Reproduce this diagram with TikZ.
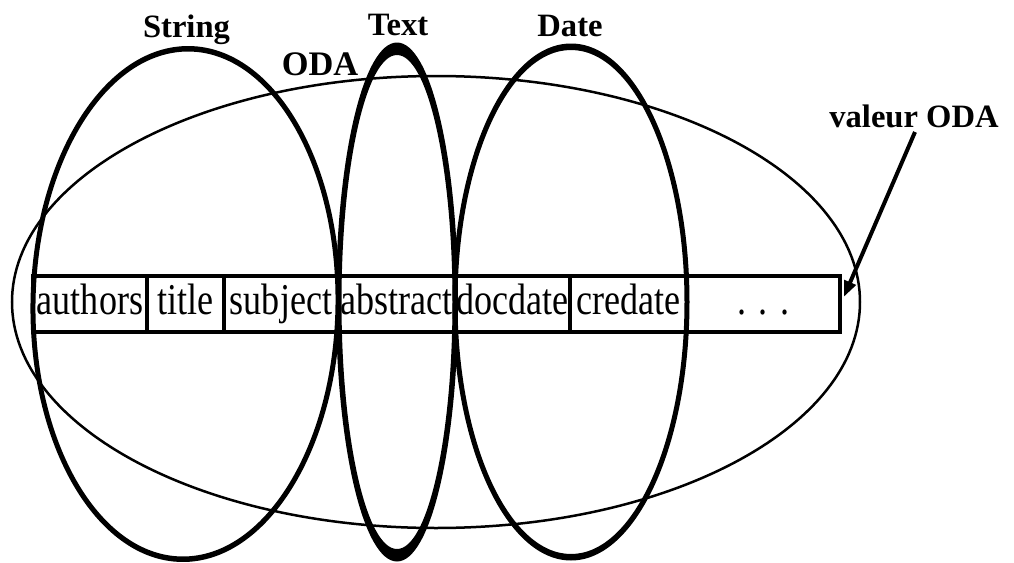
\documentclass[tikz,border=0pt]{standalone}
\usepackage{fontspec}
\setmainfont{Liberation Serif}
\newfontfamily\cellfont{Liberation Serif}[FakeStretch=0.82]
\usetikzlibrary{arrows.meta}
\begin{document}
\begin{tikzpicture}[x=0.5pt,y=0.5pt,
  cell/.style={draw, line width=1.8pt, minimum height=28pt, inner sep=0pt,
    font=\cellfont\fontsize{22}{26}\selectfont, text height=15.4pt, text depth=5pt},
  lab/.style={font=\bfseries\fontsize{16.3}{19}\selectfont, inner sep=0pt, anchor=base},
  odalab/.style={font=\bfseries\fontsize{17.2}{21}\selectfont, inner sep=0pt, anchor=base},
  pointer/.style={line width=2pt, -{Triangle[length=8pt,width=6pt]}},
  bigell/.style={line width=1.25pt}
]
\useasboundingbox (0,0) rectangle (1014,-563);
% ODA ellipse
\draw[bigell] (436,-302) ellipse [x radius=212pt, y radius=113pt];
% String
\begin{scope}[shift={(185.5,-304)}, rotate=-0.9]
\fill[even odd rule] (0,0) ellipse [x radius=77.5pt, y radius=129pt]
                     (0,0) ellipse [x radius=75pt, y radius=126.25pt];
\end{scope}
% Text
\fill[even odd rule] (397,-302) ellipse [x radius=30.5pt, y radius=129.75pt]
                     (397,-302) ellipse [x radius=27.75pt, y radius=123.5pt];
% Date
\fill[even odd rule] (571,-302) ellipse [x radius=59.25pt, y radius=129.25pt]
                     (571,-302) ellipse [x radius=56.75pt, y radius=126pt];
% table
\node[cell, minimum width=57pt]   (authors)  at (90,-304)    {authors};
\node[cell, minimum width=38.5pt] (title)    at (185.5,-304) {title};
\node[cell, minimum width=57pt]   (subject)  at (281,-304)   {subject};
\node[cell, minimum width=58.5pt] (abstract) at (396.5,-304) {abstract};
\node[cell, minimum width=57.5pt] (docdate)  at (512.5,-304) {docdate};
\node[cell, minimum width=58.5pt] (credate)  at (628.5,-304) {credate};
\node[cell, minimum width=76.5pt] (dots)     at (763.5,-304) {. . .};
% labels
\node[lab]    (string) at (186.5,-37) {String};
\node[lab]    (text)   at (398,-35)   {Text};
\node[lab]    (date)   at (570,-36)   {Date};
\node[odalab] (oda)    at (320,-75)   {ODA};
\node[lab]    (valeur) at (914,-127)  {valeur ODA};
\coordinate (vstart) at (915,-132);
\draw[pointer] (vstart) -- ([shift={(1pt,3.5pt)}]dots.east);
\end{tikzpicture}
\end{document}
